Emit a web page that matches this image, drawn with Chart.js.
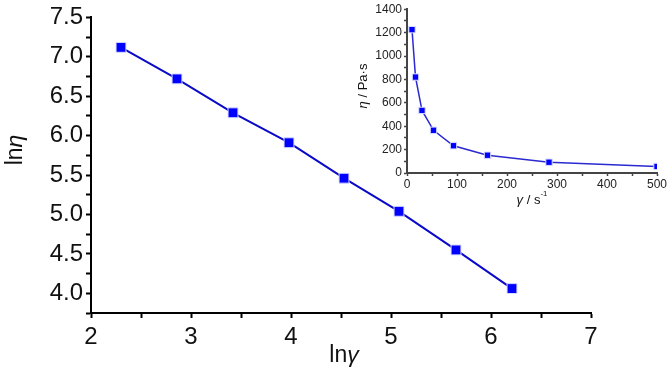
<!DOCTYPE html>
<html>
<head>
<meta charset="utf-8">
<script src="https://cdn.jsdelivr.net/npm/chart.js@4"></script>
<style>
  html, body { margin: 0; padding: 0; background: #fff; }
  #wrap { position: relative; width: 670px; height: 372px; }
  #main { position: absolute; left: 0; top: 0; }
  #inset { position: absolute; left: 340px; top: 0; }
</style>
</head>
<body>
<div id="wrap">
  <canvas id="main" width="670" height="372"></canvas>
  <canvas id="inset" width="330" height="230"></canvas>
</div>
<script>
// main plot: ln(eta) vs ln(gamma)
const lnShear = [2.30, 2.86, 3.42, 3.98, 4.53, 5.08, 5.65, 6.21];
const lnVisc  = [7.12, 6.72, 6.29, 5.91, 5.46, 5.04, 4.55, 4.06];
// inset: eta vs shear rate
const shear = [10, 17, 30, 53, 93, 161, 284, 500];
const visc  = [1225, 820, 535, 365, 233, 152, 92, 56];

const FONT = "'Liberation Sans Narrow', 'Arial Narrow', 'Liberation Sans', Arial, sans-serif";

function pts(xs, ys) {
    return xs.map((x, i) => ({ x: x, y: ys[i] }));
}

// draws a run of text pieces [text, italic, sup] centred at (x, y), optionally rotated
function drawParts(ctx, parts, x, y, size, rot) {
    ctx.save();
    ctx.translate(x, y);
    if (rot) ctx.rotate(rot);
    ctx.textBaseline = 'middle';
    ctx.fillStyle = '#111';
    let total = 0;
    parts.forEach(p => {
        const s = p[2] ? size * 0.6 : size;
        ctx.font = (p[1] ? 'italic ' : '') + s + 'px ' + FONT;
        total += ctx.measureText(p[0]).width;
    });
    let cx = -total / 2;
    parts.forEach(p => {
        const s = p[2] ? size * 0.6 : size;
        ctx.font = (p[1] ? 'italic ' : '') + s + 'px ' + FONT;
        ctx.fillText(p[0], cx, p[2] ? -size * 0.45 : 0);
        cx += ctx.measureText(p[0]).width;
    });
    ctx.restore();
}

const mainTitles = {
    id: 'mainTitles',
    afterDraw(chart) {
        const ctx = chart.ctx, a = chart.chartArea;
        drawParts(ctx, [['ln', false], ['γ', true]], (a.left + a.right) / 2 + 3, 356, 23, 0);
        drawParts(ctx, [['ln', false], ['η', true]], 16, 150, 23, -Math.PI / 2);
    }
};

const insetTitles = {
    id: 'insetTitles',
    afterDraw(chart) {
        const ctx = chart.ctx, a = chart.chartArea;
        drawParts(ctx, [['γ', true], [' / s', false], ['-1', false, true]], (a.left + a.right) / 2, 200, 13, 0);
        drawParts(ctx, [['η', true], [' / Pa·s', false]], 23, 86, 13, -Math.PI / 2);
    }
};

new Chart(document.getElementById('main'), {
    type: 'scatter',
    data: {
        datasets: [{
            data: pts(lnShear, lnVisc),
            showLine: true,
            borderColor: '#0a0ac8',
            borderWidth: 2,
            backgroundColor: '#0000ff',
            pointStyle: 'rect',
            pointRadius: 7,
            pointBorderColor: '#d8dcff',
            pointBorderWidth: 1
        }]
    },
    options: {
        responsive: false,
        animation: false,
        layout: { padding: { left: 0, right: 79, top: 15, bottom: 0 } },
        plugins: { legend: { display: false }, tooltip: { enabled: false } },
        scales: {
            x: {
                type: 'linear',
                min: 2, max: 7,
                afterFit: s => { s.height = 59; },
                border: { color: '#000', width: 2 },
                grid: { drawOnChartArea: false, tickLength: 5, tickColor: '#000', tickWidth: 2 },
                ticks: {
                    stepSize: 0.5, autoSkip: false, maxRotation: 0, padding: 5,
                    color: '#111', font: { family: FONT, size: 24 },
                    callback: v => Number.isInteger(v) ? String(v) : ''
                }
            },
            y: {
                type: 'linear',
                min: 3.75, max: 7.5,
                afterFit: s => { s.width = 91; },
                border: { color: '#000', width: 2 },
                grid: { drawOnChartArea: false, tickLength: 5, tickColor: '#000', tickWidth: 2 },
                ticks: {
                    stepSize: 0.25, autoSkip: false, padding: 3,
                    color: '#111', font: { family: FONT, size: 24 },
                    callback: v => (Math.abs(v * 2 - Math.round(v * 2)) < 1e-6 && v >= 4) ? v.toFixed(1) : ''
                }
            }
        }
    },
    plugins: [mainTitles]
});

new Chart(document.getElementById('inset'), {
    type: 'scatter',
    data: {
        datasets: [{
            data: pts(shear, visc),
            showLine: true,
            borderColor: '#2a2ad0',
            borderWidth: 1.5,
            backgroundColor: '#0000ff',
            pointStyle: 'rect',
            pointRadius: 4.5,
            pointBorderColor: '#d8dcff',
            pointBorderWidth: 1
        }]
    },
    options: {
        responsive: false,
        animation: false,
        layout: { padding: { left: 0, right: 13, top: 9, bottom: 0 } },
        plugins: { legend: { display: false }, tooltip: { enabled: false } },
        scales: {
            x: {
                type: 'linear',
                min: 0, max: 500,
                afterFit: s => { s.height = 57; },
                border: { color: '#444', width: 2 },
                grid: { drawOnChartArea: false, tickLength: 3, tickColor: '#444', tickWidth: 1.5 },
                ticks: {
                    stepSize: 50, autoSkip: false, maxRotation: 0, padding: 1,
                    color: '#222', font: { family: FONT, size: 12 },
                    callback: v => v % 100 === 0 ? String(v) : ''
                }
            },
            y: {
                type: 'linear',
                min: 0, max: 1400,
                afterFit: s => { s.width = 67; },
                border: { color: '#444', width: 2 },
                grid: { drawOnChartArea: false, tickLength: 3, tickColor: '#444', tickWidth: 1.5 },
                ticks: {
                    stepSize: 100, autoSkip: false, padding: 2,
                    color: '#222', font: { family: FONT, size: 12 },
                    callback: v => v % 200 === 0 ? String(v) : ''
                }
            }
        }
    },
    plugins: [insetTitles]
});
</script>
</body>
</html>
